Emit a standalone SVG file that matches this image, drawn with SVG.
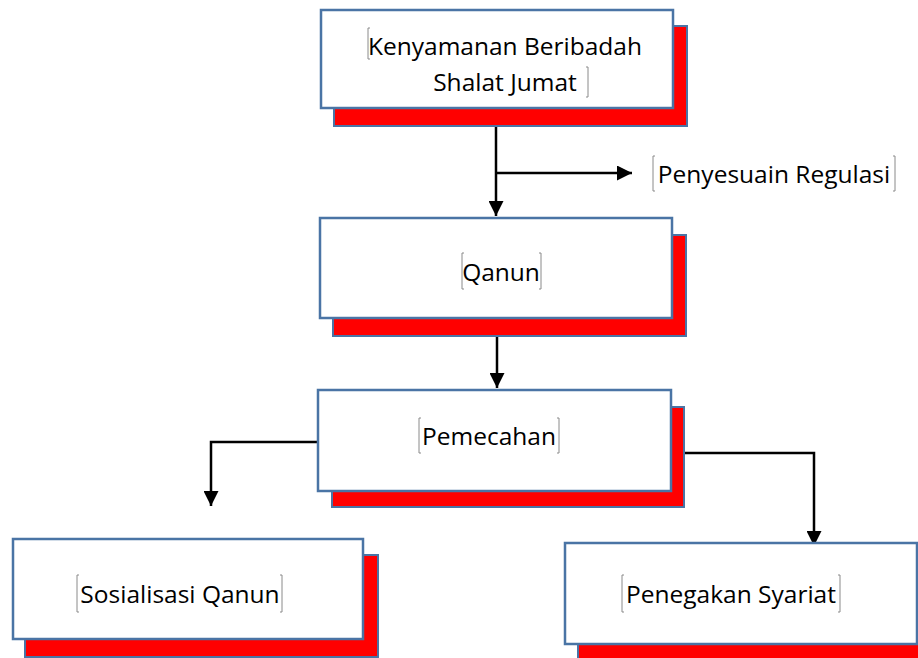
<svg xmlns="http://www.w3.org/2000/svg" width="918" height="658" viewBox="0 0 918 658">
<defs>
<style>
.shadow{fill:#ff0000;stroke:#4a74a5;stroke-width:2}
.box{fill:#ffffff;stroke:#4a74a5;stroke-width:2.5}
.lbl{font-family:"Open Sans","Noto Sans","Liberation Sans",sans-serif;font-size:24.5px;fill:#000;text-anchor:middle}
.brk{fill:none;stroke:#8a8a8a;stroke-width:1}
.conn{fill:none;stroke:#000;stroke-width:2.5}
</style>
<marker id="ah" viewBox="0 0 10 10" refX="10" refY="5" markerWidth="6" markerHeight="6" markerUnits="strokeWidth" orient="auto">
<path d="M0,0 L10,5 L0,10 z" fill="#000"/>
</marker>
</defs>
<rect width="918" height="658" fill="#fff"/>
<g id="connectors">
<path class="conn" d="M496,126 V216" marker-end="url(#ah)"/>
<path class="conn" d="M496,173 H632" marker-end="url(#ah)"/>
<path class="conn" d="M497,336 V388" marker-end="url(#ah)"/>
<path class="conn" d="M318,442 H211 V506" marker-end="url(#ah)"/>
<path class="conn" d="M684,453 H814 V546" marker-end="url(#ah)"/>
</g>
<g id="node-kenyamanan">
<rect class="shadow" x="334" y="26" width="353" height="100"/>
<rect class="box" x="321" y="10" width="352" height="98"/>
<path class="brk" d="M370,28 H368 V59 H370"/>
<path class="brk" d="M586,67 H588 V97 H586"/>
<text class="lbl" x="505" y="55">Kenyamanan Beribadah</text>
<text class="lbl" x="505" y="91">Shalat Jumat</text>
</g>
<g id="node-penyesuain">
<path class="brk" d="M655,156 H653 V191 H655"/>
<path class="brk" d="M893,156 H895 V191 H893"/>
<text class="lbl" x="774" y="183">Penyesuain Regulasi</text>
</g>
<g id="node-qanun">
<rect class="shadow" x="333" y="235" width="353" height="101"/>
<rect class="box" x="320" y="218" width="352" height="100"/>
<path class="brk" d="M464,253 H462 V289 H464"/>
<path class="brk" d="M539,253 H541 V289 H539"/>
<text class="lbl" x="501" y="281">Qanun</text>
</g>
<g id="node-pemecahan">
<rect class="shadow" x="332" y="407" width="352" height="100"/>
<rect class="box" x="318" y="390" width="353" height="101"/>
<path class="brk" d="M421,418 H419 V453 H421"/>
<path class="brk" d="M557,418 H559 V453 H557"/>
<text class="lbl" x="489" y="445">Pemecahan</text>
</g>
<g id="node-sosialisasi">
<rect class="shadow" x="25" y="555" width="353" height="102"/>
<rect class="box" x="13" y="539" width="350" height="100"/>
<path class="brk" d="M79,575 H77 V612 H79"/>
<path class="brk" d="M280,575 H282 V612 H280"/>
<text class="lbl" x="180" y="603">Sosialisasi Qanun</text>
</g>
<g id="node-penegakan">
<rect class="shadow" x="578" y="560" width="350" height="102"/>
<rect class="box" x="565" y="543" width="352" height="101"/>
<path class="brk" d="M624,575 H622 V612 H624"/>
<path class="brk" d="M838,575 H840 V612 H838"/>
<text class="lbl" x="731" y="603">Penegakan Syariat</text>
</g>
</svg>
